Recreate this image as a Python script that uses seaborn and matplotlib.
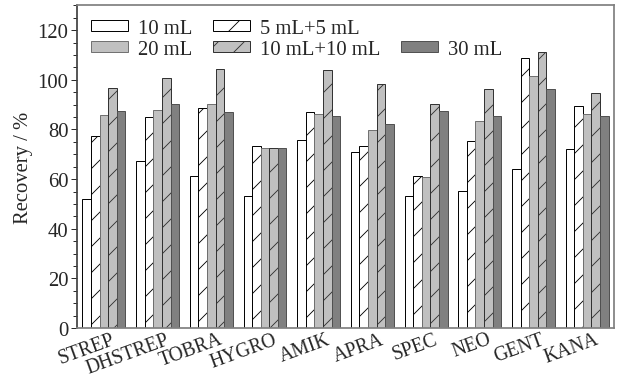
import numpy as np
import pandas as pd
import seaborn as sns
import matplotlib.pyplot as plt
from matplotlib.patches import Patch
from matplotlib.ticker import MultipleLocator
import matplotlib.transforms as mtransforms

# Recovery (%) per antibiotic and extraction volume
drugs = ["STREP", "DHSTREP", "TOBRA", "HYGRO", "AMIK", "APRA", "SPEC", "NEO", "GENT", "KANA"]
volumes = ["10 mL", "5 mL+5 mL", "20 mL", "10 mL+10 mL", "30 mL"]
rec_10 = [52.1, 67.5, 61.2, 53.2, 75.6, 70.9, 53.1, 55.2, 64.2, 72.1]
rec_5_5 = [77.4, 85.0, 88.7, 73.2, 87.0, 73.2, 61.2, 75.3, 109.0, 89.3]
rec_20 = [86.0, 88.0, 90.1, 72.4, 86.2, 79.8, 60.7, 83.4, 101.6, 86.2]
rec_10_10 = [96.7, 100.8, 104.4, 72.5, 104.1, 98.2, 90.3, 96.4, 111.3, 94.7]
rec_30 = [87.6, 90.3, 87.2, 72.7, 85.3, 82.2, 87.4, 85.3, 96.4, 85.4]

df = pd.DataFrame({
    "drug": drugs * 5,
    "volume": np.repeat(volumes, len(drugs)),
    "recovery": rec_10 + rec_5_5 + rec_20 + rec_10_10 + rec_30,
})

faces = ["white", "white", "#c0c0c0", "#c0c0c0", "#808080"]
edges = ["black", "black", "#707070", "#303030", "#505050"]
hatches = ["", "/", "", "/", ""]

DPI = 78
FS = 19
sns.set_style("ticks")
plt.rcParams["font.family"] = ["Liberation Serif", "DejaVu Serif"]
plt.rcParams["hatch.linewidth"] = 0.8

fig, ax = plt.subplots(figsize=(622 / DPI, 379 / DPI), dpi=DPI)
sns.barplot(data=df, x="drug", y="recovery", hue="volume", order=drugs,
            hue_order=volumes, width=0.8, ax=ax, legend=False)

for cont, fc, ec, h in zip(ax.containers, faces, edges, hatches):
    for bar in cont:
        bar.set_facecolor(fc)
        bar.set_edgecolor(ec)
        bar.set_hatch(h)
        bar.set_linewidth(0.9)

ax.set_xlim(-0.5, 9.5)
ax.set_ylim(0, 130)
ax.yaxis.set_major_locator(MultipleLocator(20))
ax.yaxis.set_minor_locator(MultipleLocator(5))
ax.tick_params(axis="y", which="major", length=6, width=0.9, labelsize=FS, direction="out", pad=2)
ax.tick_params(axis="y", which="minor", length=3.5, width=0.9, direction="out")
ax.tick_params(axis="x", length=0, labelsize=18, pad=1.5)
for s in ax.spines.values():
    s.set_color("#808080")
    s.set_linewidth(1.6)
ax.spines["left"].set_color("#404040")

offset = mtransforms.ScaledTranslation(14 / DPI, 0, fig.dpi_scale_trans)
for lab in ax.get_xticklabels():
    lab.set_rotation(20)
    lab.set_ha("right")
    lab.set_transform(lab.get_transform() + offset)

ax.set_xlabel("")
ax.set_ylabel("Recovery / %", fontsize=FS, labelpad=4)

# legend laid out like the original: 30 mL sits in the second row of column 3
order = [0, 2, 1, 3, None, 4]
handles, labels = [], []
for i in order:
    if i is None:
        handles.append(Patch(visible=False))
        labels.append("")
    else:
        handles.append(Patch(facecolor=faces[i], edgecolor=edges[i], hatch=hatches[i], linewidth=0.9))
        labels.append(volumes[i])
ax.legend(handles, labels, loc="upper left", ncol=3, frameon=False, fontsize=FS,
          handlelength=1.8, handleheight=0.45, columnspacing=1.0, handletextpad=0.5,
          labelspacing=0.12, borderaxespad=0.3, borderpad=0.35)

fig.subplots_adjust(left=0.124, right=0.987, top=0.983, bottom=0.132)
fig.savefig("out.png", dpi=DPI)
